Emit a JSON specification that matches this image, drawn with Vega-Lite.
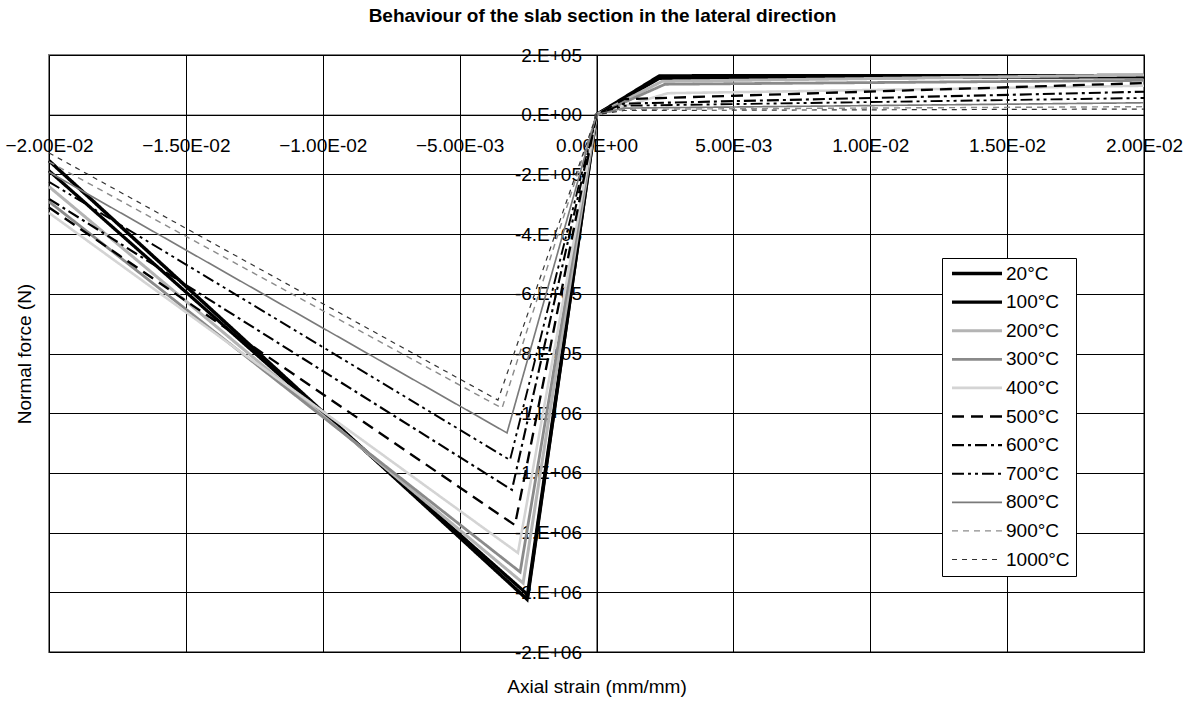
{
  "$schema": "https://vega.github.io/schema/vega-lite/v6.json",
  "width": 1095,
  "height": 597,
  "autosize": "none",
  "padding": {"left": 49, "top": 55, "right": 49, "bottom": 51},
  "background": "white",
  "title": {"text": "Behaviour of the slab section in the lateral direction", "font": "Liberation Sans", "fontSize": 19, "fontWeight": "bold", "color": "black", "anchor": "middle", "offset": 20, "dx": 6},
  "config": {
    "view": {"stroke": "#808080", "strokeWidth": 2},
    "axis": {"labelFont": "Liberation Sans", "titleFont": "Liberation Sans", "labelFontSize": 19, "titleFontSize": 19, "labelColor": "black", "titleColor": "black", "titleFontWeight": "normal", "gridColor": "black", "gridWidth": 1, "gridOpacity": 1, "domainColor": "black", "domainWidth": 1, "tickColor": "black", "tickSize": 5, "labelOverlap": false, "labelBound": false, "labelFlush": false}
  },
  "data": {"values": [
    {"series": "20°C", "x": -0.02, "y": -154000}, {"series": "20°C", "x": -0.00254, "y": -1623000}, {"series": "20°C", "x": 0, "y": 0}, {"series": "20°C", "x": 0.0023, "y": 130000}, {"series": "20°C", "x": 0.02, "y": 131000},
    {"series": "100°C", "x": -0.02, "y": -188000}, {"series": "100°C", "x": -0.0025, "y": -1609000}, {"series": "100°C", "x": 0, "y": 0}, {"series": "100°C", "x": 0.0023, "y": 122000}, {"series": "100°C", "x": 0.02, "y": 127000},
    {"series": "200°C", "x": -0.02, "y": -241000}, {"series": "200°C", "x": -0.00268, "y": -1569000}, {"series": "200°C", "x": 0, "y": 0}, {"series": "200°C", "x": 0.0024, "y": 112000}, {"series": "200°C", "x": 0.02, "y": 133000},
    {"series": "300°C", "x": -0.02, "y": -291000}, {"series": "300°C", "x": -0.00279, "y": -1532000}, {"series": "300°C", "x": 0, "y": 0}, {"series": "300°C", "x": 0.0025, "y": 102000}, {"series": "300°C", "x": 0.02, "y": 115000},
    {"series": "400°C", "x": -0.02, "y": -329000}, {"series": "400°C", "x": -0.00287, "y": -1468000}, {"series": "400°C", "x": 0, "y": 0}, {"series": "400°C", "x": 0.0026, "y": 72000}, {"series": "400°C", "x": 0.02, "y": 97000},
    {"series": "500°C", "x": -0.02, "y": -311000}, {"series": "500°C", "x": -0.00298, "y": -1375000}, {"series": "500°C", "x": 0, "y": 0}, {"series": "500°C", "x": 0.001, "y": 52000}, {"series": "500°C", "x": 0.02, "y": 106000},
    {"series": "600°C", "x": -0.02, "y": -282000}, {"series": "600°C", "x": -0.00309, "y": -1257000}, {"series": "600°C", "x": 0, "y": 0}, {"series": "600°C", "x": 0.001, "y": 37000}, {"series": "600°C", "x": 0.02, "y": 77000},
    {"series": "700°C", "x": -0.02, "y": -225000}, {"series": "700°C", "x": -0.00316, "y": -1157000}, {"series": "700°C", "x": 0, "y": 0}, {"series": "700°C", "x": 0.001, "y": 30000}, {"series": "700°C", "x": 0.02, "y": 56000},
    {"series": "800°C", "x": -0.02, "y": -192000}, {"series": "800°C", "x": -0.00327, "y": -1066000}, {"series": "800°C", "x": 0, "y": 0}, {"series": "800°C", "x": 0.001, "y": 22000}, {"series": "800°C", "x": 0.02, "y": 40000},
    {"series": "900°C", "x": -0.02, "y": -158000}, {"series": "900°C", "x": -0.00345, "y": -983000}, {"series": "900°C", "x": 0, "y": 0}, {"series": "900°C", "x": 0.001, "y": 18000}, {"series": "900°C", "x": 0.02, "y": 27000},
    {"series": "1000°C", "x": -0.02, "y": -128000}, {"series": "1000°C", "x": -0.0036, "y": -956000}, {"series": "1000°C", "x": 0, "y": 0}, {"series": "1000°C", "x": 0.001, "y": 14000}, {"series": "1000°C", "x": 0.02, "y": 19000}
  ]},
  "mark": {"type": "line", "strokeCap": "butt", "strokeJoin": "miter"},
  "encoding": {
    "x": {
      "field": "x", "type": "quantitative",
      "scale": {"domain": [-0.02, 0.02], "nice": false, "zero": false},
      "axis": {
        "orient": "bottom", "offset": -537.3,
        "values": [-0.02, -0.015, -0.01, -0.005, 0, 0.005, 0.01, 0.015, 0.02],
        "labelPadding": 17,
        "labelExpr": "datum.value == 0 ? '0.00E+00' : format(datum.value / pow(10, floor(log(abs(datum.value)) / LN10 + 1e-9)), '.2f') + 'E-' + pad('' + (-floor(log(abs(datum.value)) / LN10 + 1e-9)), 2, '0', 'left')",
        "title": "Axial strain (mm/mm)",
        "titleY": 572, "titleX": 547.5, "titleBaseline": "middle", "titleAnchor": "middle"
      }
    },
    "y": {
      "field": "y", "type": "quantitative",
      "scale": {"domain": [-1800000, 200000], "nice": false, "zero": false},
      "axis": {
        "orient": "left", "offset": -547.5,
        "values": [-1800000, -1600000, -1400000, -1200000, -1000000, -800000, -600000, -400000, -200000, 0, 200000],
        "labelPadding": 10, "labelBaseline": "middle",
        "labelExpr": "datum.value == 0 ? '0.E+00' : (round(datum.value / pow(10, floor(log(abs(datum.value)) / LN10 + 1e-9))) + '.E' + (floor(log(abs(datum.value)) / LN10 + 1e-9) >= 0 ? '+' : '-') + pad('' + abs(floor(log(abs(datum.value)) / LN10 + 1e-9)), 2, '0', 'left'))",
        "title": "Normal force (N)",
        "titleX": -572.5, "titleY": 298.5, "titleAngle": -90, "titleBaseline": "middle", "titleAnchor": "middle"
      }
    },
    "color": {
      "field": "series", "type": "nominal",
      "scale": {
        "domain": ["20°C", "100°C", "200°C", "300°C", "400°C", "500°C", "600°C", "700°C", "800°C", "900°C", "1000°C"],
        "range": ["#000000", "#000000", "#b4b4b4", "#8a8a8a", "#d4d4d4", "#000000", "#000000", "#000000", "#7a7a7a", "#8c8c8c", "#333333"]
      },
      "legend": {
        "orient": "none", "legendX": 893, "legendY": 203, "title": null,
        "strokeColor": "black", "fillColor": "white", "padding": 6,
        "symbolType": "stroke", "symbolSize": 2500, "symbolOffset": 2,
        "clipHeight": 19,
        "labelOffset": 2, "rowPadding": 8.6, "labelFont": "Liberation Sans", "labelFontSize": 19, "labelColor": "black", "labelLimit": 0
      }
    },
    "strokeDash": {
      "field": "series", "type": "nominal",
      "scale": {
        "domain": ["20°C", "100°C", "200°C", "300°C", "400°C", "500°C", "600°C", "700°C", "800°C", "900°C", "1000°C"],
        "range": [[1, 0], [1, 0], [1, 0], [1, 0], [1, 0], [12, 7], [12, 4, 3, 4], [12, 4, 3, 4, 3, 4], [1, 0], [6, 5], [5, 5]]
      }
    },
    "strokeWidth": {
      "field": "series", "type": "nominal",
      "scale": {
        "domain": ["20°C", "100°C", "200°C", "300°C", "400°C", "500°C", "600°C", "700°C", "800°C", "900°C", "1000°C"],
        "range": [3.5, 1.2, 2.5, 1.5, 2, 1.8, 1.8, 1.8, 1.2, 1.2, 1.2]
      }
    }
  }
}
